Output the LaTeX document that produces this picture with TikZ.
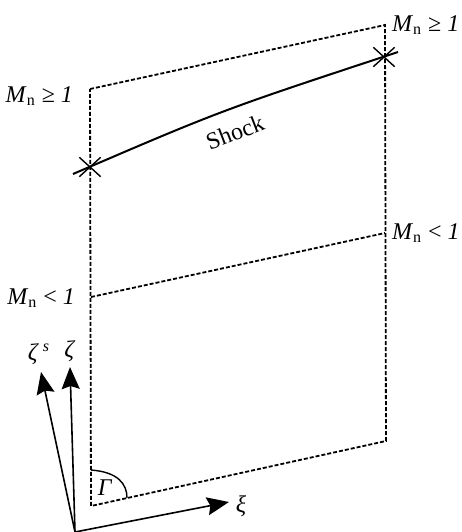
\documentclass[tikz,border=0pt]{standalone}
\usepackage{fontspec}
\setmainfont{Liberation Serif}
\usetikzlibrary{arrows.meta, positioning, shapes.misc}
\newcommand{\Mn}{\textit{M}\textsubscript{n}}

\begin{document}
\begin{tikzpicture}[
  x=0.5pt, y=-0.5pt,
  font=\fontsize{12}{14}\selectfont,
  edge/.style={dash pattern=on 2pt off 1pt, line width=0.9pt},
  shockline/.style={line width=1pt},
  crossmark/.style={cross out, draw, line width=0.7pt, minimum width=10pt,
    minimum height=9pt, inner sep=0pt},
  axis/.style={-{Stealth[length=11pt, width=9pt, inset=1.5pt]}, line width=0.8pt},
]
  \useasboundingbox (0,0) rectangle (462,532);
  % control surface
  \coordinate (tl) at (90,89);
  \coordinate (tr) at (385,25);
  \coordinate (ml) at (91,297);
  \coordinate (mr) at (385,233);
  \coordinate (bl) at (91,506);
  \coordinate (br) at (386,441);
  \draw[edge] (tl) -- (tr) -- (br) -- (bl) -- cycle;
  \draw[edge] (ml) -- (mr);
  % shock
  \node[crossmark] (sa) at (90,167) {};
  \node[crossmark] (sb) at (384,57) {};
  \coordinate (s0) at (73,174);
  \coordinate (s1) at (398,52);
  \draw[shockline] (s0) .. controls (222,110) .. (s1);
  \node[rotate=21, inner sep=1pt] (shocklbl) at (235,132) {Shock};
  % Mach labels
  \node[anchor=east] (mtl) at (80,96) {\Mn{} ≥ \textit{1}};
  \node[anchor=west] (mtr) at (385,25) {\Mn{} ≥ \textit{1}};
  \node[anchor=east] (mml) at (82,298) {\Mn{} < \textit{1}};
  \node[anchor=west] (mmr) at (385,233) {\Mn{} < \textit{1}};
  % axes
  \coordinate (o) at (75,532);
  \coordinate (zt) at (70,367);
  \coordinate (zst) at (41,372);
  \coordinate (xt) at (229,502);
  \draw[axis] (o) -- (zt);
  \draw[axis] (o) -- (zst);
  \draw[axis] (o) -- (xt);
  \node (zeta) at (70,351) {\textit{ζ}};
  \node (zetas) at (39,354) {\textit{ζ}\,\textsuperscript{\textit{s}}};
  \node (xi) at (241,506) {\textit{ξ}};
  % angle
  \draw[line width=0.7pt] (91,470) .. controls (118,472) and (127,484) .. (127,498);
  \node (gam) at (105,488) {\textit{Γ}};
\end{tikzpicture}
\end{document}
